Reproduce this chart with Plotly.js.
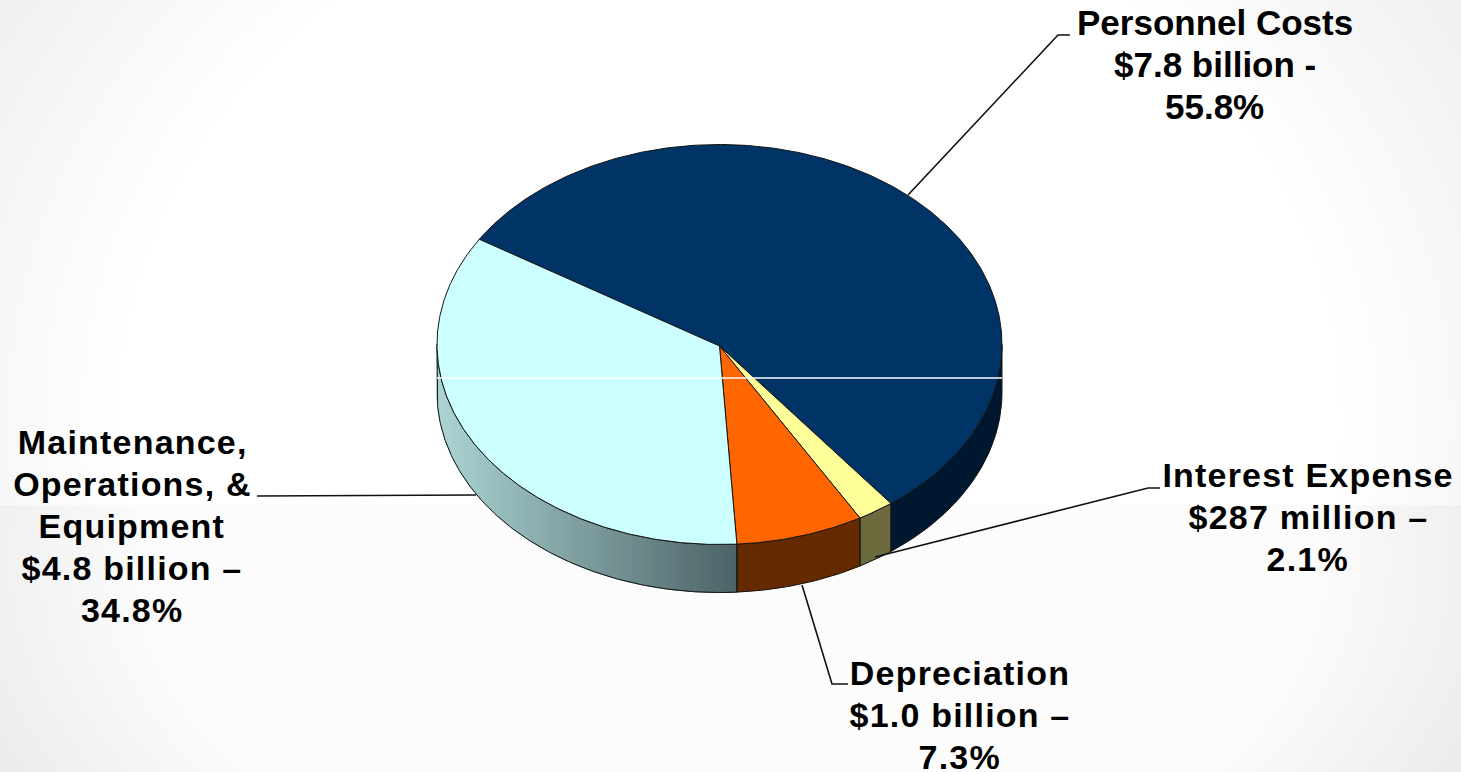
<!DOCTYPE html>
<html>
<head>
<meta charset="utf-8">
<script src="https://cdn.plot.ly/plotly-3.0.1.min.js"></script>
<style>
html,body{margin:0;padding:0;width:1461px;height:772px;overflow:hidden;background:#fff}
#bgTop{position:absolute;left:0;top:0;width:1461px;height:505px;
 background:radial-gradient(ellipse 780px 700px at 730px 420px,#ffffff 78%,#efefef 112%)}
#bgBot{position:absolute;left:0;top:505px;width:1461px;height:267px;
 background:radial-gradient(ellipse 800px 500px at 730px 55px,#fcfcfc 72%,#e2e2e2 116%)}
#chart{position:absolute;left:0;top:0;width:1461px;height:772px}
.annotation .annotation-text{letter-spacing:1.2px}
.annotation[data-index="0"] .annotation-text,
.annotation[data-index="1"] .annotation-text,
.annotation[data-index="2"] .annotation-text{letter-spacing:0}
</style>
</head>
<body>
<div id="bgTop"></div><div id="bgBot"></div><div id="chart"></div>
<script>
// ---- data ----
const categories = ["Personnel Costs", "Interest Expense", "Depreciation", "Maintenance, Operations, & Equipment"];
const percents   = [55.8, 2.1, 7.3, 34.8];
const amounts    = ["$7.8 billion -", "$287 million –", "$1.0 billion –", "$4.8 billion –"];
const topColors  = ["#003366", "#ffff99", "#ff6600", "#ccffff"];
const wallColors = ["#00182f", "#6b6b3d", "#662a00", "#7f9c9e"];

// ---- pie geometry ----
const cx = 719.5, cy = 344.5, rx = 282.5, ry = 200, depth = 48, apexDrop = 1.5;
const startDeg = -58.25;
const total = percents.reduce((a, b) => a + b, 0);
const pt = (deg, dy = 0) => {
  const t = deg * Math.PI / 180;
  return [cx + rx * Math.sin(t), cy - ry * Math.cos(t) + dy];
};
const lerp = (a, b, f) => a.map((v, i) => Math.round(v + (b[i] - v) * f));
const rgb = c => `rgb(${c[0]},${c[1]},${c[2]})`;

const bounds = [];
let acc = startDeg;
percents.forEach(p => { const s = acc; acc += p / total * 360; bounds.push([s, acc]); });

const traces = [];
const outline = "#141414";
const wallPoly = (a, b, n) => {
  const xs = [], ys = [];
  for (let k = 0; k <= n; k++) { const q = pt(a + (b - a) * k / n); xs.push(q[0]); ys.push(q[1]); }
  for (let k = n; k >= 0; k--) { const q = pt(a + (b - a) * k / n, depth); xs.push(q[0]); ys.push(q[1]); }
  xs.push(xs[0]); ys.push(ys[0]);
  return [xs, ys];
};

// visible front half of the side wall (90..270 degrees)
const wallRanges = [];
bounds.forEach((b, i) => {
  const from = Math.max(b[0], 90), to = Math.min(b[1], 270);
  if (to > from) wallRanges.push([from, to, i]);
});

// solid walls, except the Maintenance one which is a horizontal gradient
wallRanges.forEach(([from, to, i]) => {
  if (i === wallRanges.length - 1) {
    const n = 90, xMin = cx - rx, xMax = pt(from)[0];
    for (let k = 0; k < n; k++) {
      const a0 = from + (to - from) * k / n, a1 = from + (to - from) * (k + 1) / n;
      const f = (xMax - pt((a0 + a1) / 2)[0]) / (xMax - xMin);
      const col = rgb(lerp([76, 98, 102], [172, 212, 212], f));
      const [xs, ys] = wallPoly(a0, a1, 2);
      traces.push({type: "scatter", mode: "lines", x: xs, y: ys, fill: "toself", fillcolor: col,
        line: {color: col, width: 1}, hoverinfo: "skip", showlegend: false});
    }
  } else {
    const [xs, ys] = wallPoly(from, to, Math.ceil((to - from) * 2));
    traces.push({type: "scatter", mode: "none", x: xs, y: ys, fill: "toself", fillcolor: wallColors[i],
      hoverinfo: "skip", showlegend: false});
  }
});
wallRanges.forEach(([from, to]) => {
  const [xs, ys] = wallPoly(from, to, Math.ceil((to - from) * 2));
  traces.push({type: "scatter", mode: "lines", x: xs, y: ys, line: {color: outline, width: 1},
    hoverinfo: "skip", showlegend: false});
});

// top faces
bounds.forEach((b, i) => {
  const xs = [cx], ys = [cy + apexDrop], n = Math.ceil((b[1] - b[0]) * 2);
  for (let k = 0; k <= n; k++) { const q = pt(b[0] + (b[1] - b[0]) * k / n); xs.push(q[0]); ys.push(q[1]); }
  xs.push(cx); ys.push(cy + apexDrop);
  traces.push({type: "scatter", mode: "lines", x: xs, y: ys, fill: "toself", fillcolor: topColors[i],
    line: {color: outline, width: 1}, name: categories[i], hoverinfo: "name", showlegend: false});
});

// thin white rule across the pie
const rule = {type: "line", xref: "x", yref: "y", x0: cx - rx, x1: cx + rx, y0: 378, y1: 378,
  line: {color: "#ffffff", width: 1.5}, layer: "above"};

const leaderPaths = [
  "M908,195 L1058,35 L1070,35",
  "M257,496 L476,495",
  "M875,557 L1148,488 L1160,488",
  "M802,585 L832,684 L848,684"
];
const leaders = leaderPaths.map(p => ({type: "path", path: p, xref: "x", yref: "y",
  line: {color: "#111", width: 1.6}, layer: "above"}));

const lineGap = 42;
const block = (lines, x, y0, size) => lines.map((t, k) => ({
  text: "<b>" + t + "</b>", x, y: y0 + k * lineGap, xref: "x", yref: "y",
  xanchor: "center", yanchor: "middle", showarrow: false, align: "center",
  font: {family: "Liberation Sans, Arial, sans-serif", size, color: "#000"}
}));
const pct = i => percents[i].toFixed(1) + "%";
const annotations = [
  ...block(["Personnel Costs", amounts[0], pct(0)], 1214.5, 22, 35),
  ...block(["Interest Expense", amounts[1], pct(1)], 1308, 475, 34),
  ...block(["Depreciation", amounts[2], pct(2)], 960, 673, 34),
  ...block(["Maintenance,", "Operations, &amp;", "Equipment", amounts[3], pct(3)], 132, 442, 34)
];

Plotly.newPlot("chart", traces, {
  width: 1461, height: 772,
  margin: {l: 0, r: 0, t: 0, b: 0},
  paper_bgcolor: "rgba(0,0,0,0)", plot_bgcolor: "rgba(0,0,0,0)",
  showlegend: false,
  xaxis: {range: [0, 1461], visible: false, fixedrange: true},
  yaxis: {range: [772, 0], visible: false, fixedrange: true},
  shapes: [...leaders, rule],
  annotations
}, {displayModeBar: false, staticPlot: true});
</script>
</body>
</html>
